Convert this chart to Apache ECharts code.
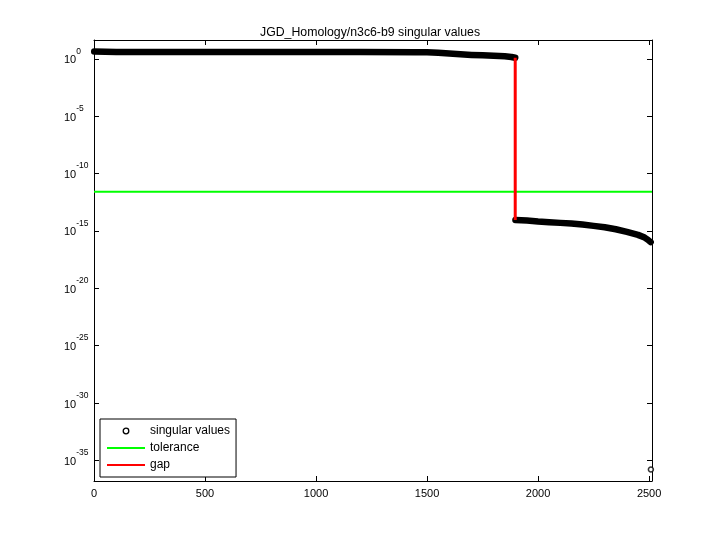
<!DOCTYPE html>
<html><head><meta charset="utf-8">
<script src="https://cdn.jsdelivr.net/npm/echarts@6/dist/echarts.min.js"></script>
<style>html,body{margin:0;padding:0;background:#fff}#c{width:720px;height:540px}</style>
</head><body><div id="c"></div>
<script>
const titleText = 'JGD_Homology/n3c6-b9 singular values';
const upperIndex  = [1, 100, 400, 800, 1200, 1450, 1500, 1550, 1600, 1650, 1700, 1750, 1800, 1850, 1880, 1897];
const upperValues = [4.35, 4.0, 3.9, 3.9, 3.85, 3.8, 3.72, 3.35, 2.9, 2.5, 2.2, 2.0, 1.82, 1.66, 1.45, 1.23];
const lowerIndex  = [1898, 1950, 2000, 2050, 2100, 2150, 2200, 2250, 2300, 2350, 2400, 2450, 2480, 2495, 2507];
const lowerValues = [9.1e-15, 7.9e-15, 6.6e-15, 5.8e-15, 5.0e-15, 4.4e-15, 3.55e-15, 2.75e-15, 2.1e-15, 1.4e-15, 8.3e-16, 4.5e-16, 2.6e-16, 1.66e-16, 1.05e-16];
const outlierIndex  = [2508];
const outlierValues = [1.6e-36];
const toleranceValue = 2.6e-12;
const gapIndex = 1897;
const gapTop = 1.23;
const gapBottom = 9.1e-15;
const xTicks = [0, 500, 1000, 1500, 2000, 2500];
const yTickExponents = [-35, -30, -25, -20, -15, -10, -5, 0];
const xMax = 2513;
const yMin = 1.585e-37;
const yMax = 43.6;

const FONT = 'Liberation Sans';
const yTickValues = yTickExponents.map(e => Math.pow(10, e));
const pairs = (xs, ys) => xs.map((x, i) => [x, ys[i]]);

const bandStyle = {
  type: 'line', name: 'singular values', symbol: 'circle', showSymbol: false,
  itemStyle: { color: '#fff', borderColor: '#000', borderWidth: 1.5 },
  lineStyle: { color: '#000', width: 6.5, cap: 'round', join: 'round' },
  clip: false, z: 2, silent: true
};
const axisLine = { show: true, onZero: false, lineStyle: { color: '#000', width: 1 } };
const tickStyle = { show: true, inside: true, length: 5, lineStyle: { color: '#000', width: 1 } };

const chart = echarts.init(document.getElementById('c'), null, { renderer: 'canvas' });
chart.setOption({
  animation: false,
  backgroundColor: '#fff',
  title: {
    text: titleText, left: 260, top: 22.5, padding: [4, 0, 4, 0],
    textStyle: { fontFamily: FONT, fontSize: 12.3, fontWeight: 'normal', color: '#000' }
  },
  grid: { left: 94, right: 68, top: 40, bottom: 59, containLabel: false },
  legend: {
    orient: 'vertical', left: 100, top: 419, padding: [5, 6, 5, 6], itemGap: 3,
    itemWidth: 38, itemHeight: 7, backgroundColor: '#fff', borderColor: '#000', borderWidth: 1, borderRadius: 0,
    selectedMode: false,
    textStyle: { fontFamily: FONT, fontSize: 12, color: '#000', lineHeight: 14 },
    data: [
      { name: 'singular values', itemStyle: { color: '#fff', borderColor: '#000', borderWidth: 1.3 }, lineStyle: { width: 0, opacity: 0 } },
      { name: 'tolerance', itemStyle: { opacity: 0 }, lineStyle: { color: '#00ff00', width: 2 } },
      { name: 'gap', itemStyle: { opacity: 0 }, lineStyle: { color: '#ff0000', width: 2 } }
    ]
  },
  xAxis: [
    { type: 'value', min: 0, max: xMax, position: 'bottom', axisLine,
      axisTick: Object.assign({ customValues: xTicks }, tickStyle),
      axisLabel: { customValues: xTicks, margin: 7, fontSize: 11, color: '#000', fontFamily: FONT,
        formatter: v => String(Math.round(v)) },
      splitLine: { show: false } },
    { type: 'value', min: 0, max: xMax, position: 'top', axisLine,
      axisTick: Object.assign({ customValues: xTicks }, tickStyle),
      axisLabel: { show: false }, splitLine: { show: false } }
  ],
  yAxis: [
    { type: 'log', logBase: 10, min: yMin, max: yMax, position: 'left', axisLine,
      axisTick: Object.assign({ customValues: yTickValues }, tickStyle),
      axisLabel: {
        customValues: yTickValues, align: 'left', margin: 30, padding: [0, 0, 5, 0],
        formatter: v => {
          const e = (v > 0 && v <= 10) ? Math.round(Math.log10(v)) : Math.round(v);
          return '{b|10}{e|' + e + '}';
        },
        rich: {
          b: { fontFamily: FONT, fontSize: 11, color: '#000', lineHeight: 20, height: 12, verticalAlign: 'bottom' },
          e: { fontFamily: FONT, fontSize: 8.5, color: '#000', lineHeight: 10, height: 10, verticalAlign: 'top' }
        }
      },
      splitLine: { show: false } },
    { type: 'log', logBase: 10, min: yMin, max: yMax, position: 'right', axisLine,
      axisTick: Object.assign({ customValues: yTickValues }, tickStyle),
      axisLabel: { show: false }, splitLine: { show: false } }
  ],
  series: [
    Object.assign({ data: pairs(upperIndex, upperValues) }, bandStyle),
    Object.assign({ data: pairs(lowerIndex, lowerValues) }, bandStyle),
    { type: 'scatter', name: 'singular values', data: pairs(outlierIndex, outlierValues), symbol: 'circle', symbolSize: 5,
      itemStyle: { color: '#fff', borderColor: '#000', borderWidth: 1.5 }, z: 2, silent: true },
    { type: 'line', name: 'tolerance', data: [[0, toleranceValue], [xMax, toleranceValue]], symbol: 'none',
      lineStyle: { color: '#00ff00', width: 2 }, itemStyle: { color: '#00ff00' }, z: 3, silent: true },
    { type: 'line', name: 'gap', data: [[gapIndex, gapTop], [gapIndex, gapBottom]], symbol: 'none',
      lineStyle: { color: '#ff0000', width: 3 }, itemStyle: { color: '#ff0000' }, z: 4, silent: true }
  ]
});
</script>
</body></html>
